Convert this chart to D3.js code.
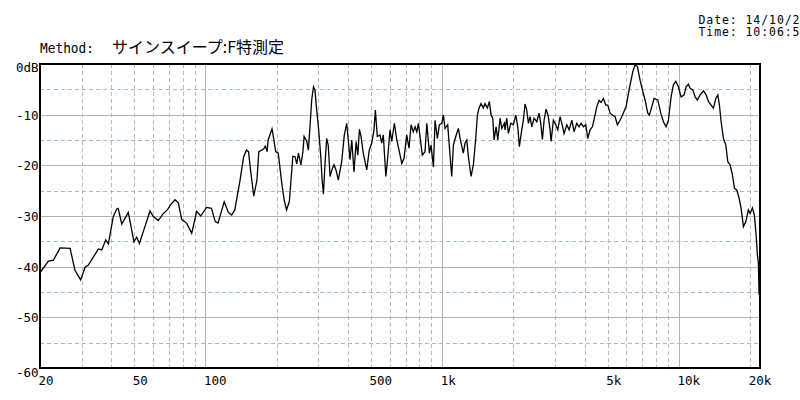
<!DOCTYPE html>
<html><head><meta charset="utf-8">
<script src="https://cdn.jsdelivr.net/npm/d3@7"></script>
<style>
html,body{margin:0;padding:0;background:#fff;}
svg{display:block;}
text{font-family:"DejaVu Sans Mono","Liberation Mono",monospace;fill:#000;}
</style></head><body>
<script>
// ---------- data ----------
const freqs = [20,21.7,22.8,24.3,26.8,28.1,29.7,31.0,32.0,35.3,36.5,37.9,38.9,40.8,42.2,42.8,44.3,47.2,49.9,51.2,52.6,55.5,58.3,60.2,63.2,66.4,69.0,71.5,74.4,76.8,79.4,83.3,87.5,91.8,95.5,101,106,110,113,120,125,129,133,
140,145,149,152,155,160,165,168,176,179,182,184,191,193,198,203,210,215,220,226,234,239,243,247,253,258,261,268,272,277,281,286,290,295,300,307,311,315,320,325,330,336,342,349,356,364,376,386,395,401,408,415,424,433,440,447,454,464,480,492,504,515,522,532,546,555,564,578,589,602,612,628,643,657,675,690,708,724,739,755,768,781,793,806,824,846,861,883,
897,918,933,954,973,996,1011,1028,1055,1079,1097,1115,1141,1170,1190,1228,1249,1270,1290,1324,1354,1386,1408,1431,1459,1492,1517,1552,1582,1609,1635,1656,1689,1717,1756,1785,1831,
1843,1874,1903,1948,1998,2046,2086,2118,2168,2202,2238,2276,2312,2350,2390,2444,2510,2566,2608,2650,2694,2746,2800,2856,2884,2948,3018,3078,3148,3200,3272,3360,3436,3528,3606,3702,3786,3860,3948,4040,4120,4214,4308,4394,4498,4600,4690,4796,4908,5006,5118,5254,5374,5494,5640,
5736,5980,6176,6384,6528,6676,6852,7008,7194,7386,7502,7680,7852,8142,8382,8598,8826,9026,9266,9476,9700,9948,10212,10514,10722,10964,11148,11444,11704,11968,12286,12688,13026,13320,13674,13984,14316,14596,14826,15074,15414,15778,16088,16452,16824,17156,17560,17956,18308,18726,19166,19654,19982,20432,20832,21180,21450,21660,21810];
const levels = [-41.2,-38.9,-38.7,-36.3,-36.4,-40.7,-42.6,-40.1,-39.7,-36.5,-36.7,-34.7,-35.5,-30.1,-28.6,-28.5,-31.6,-29.3,-35.1,-34.2,-35.4,-32.1,-29.0,-30.1,-30.9,-29.5,-28.8,-27.7,-26.8,-27.4,-30.7,-31.4,-33.4,-29.1,-30.0,-28.3,-28.5,-31.1,-31.4,-27.2,-29.3,-29.8,-28.8,
-22.9,-18.3,-17.0,-17.3,-20.9,-26.1,-22.9,-17.3,-16.8,-16.2,-17.3,-15.0,-12.8,-14.0,-17.3,-17.6,-23.5,-26.8,-28.8,-27.2,-18.2,-18.3,-19.7,-17.6,-19.9,-17.3,-14.3,-15.3,-17.0,-11.7,-7.1,-4.5,-5.1,-9.1,-12.4,-18.3,-22.9,-25.7,-19.6,-14.7,-16.0,-22.2,-20.9,-19.9,-20.9,-22.9,-19.3,-14.0,-11.7,-15.0,-18.9,-15.0,-21.3,-15.3,-18.0,-12.9,-14.3,-17.6,-20.9,-17.0,-15.6,-13.0,-9.1,-14.3,-14.0,-15.6,-14.0,-22.2,-18.3,-13.0,-15.3,-11.7,-15.0,-17.0,-19.6,-18.6,-14.0,-16.6,-12.0,-13.4,-12.4,-13.4,-11.7,-14.3,-18.0,-17.3,-11.7,-17.6,
-16.0,-20.3,-11.1,-14.7,-12.0,-11.7,-10.1,-12.7,-12.0,-18.0,-22.2,-16.0,-14.3,-12.7,-14.7,-17.6,-15.6,-15.0,-18.3,-22.2,-19.9,-14.7,-10.1,-8.7,-7.8,-8.7,-7.8,-8.7,-7.4,-10.1,-10.7,-15.0,-12.4,-15.0,-10.7,-12.7,-11.7,
-13.0,-10.7,-13.7,-11.7,-12.0,-10.1,-12.4,-16.3,-13.0,-11.1,-7.9,-9.1,-11.7,-10.4,-12.4,-10.7,-11.4,-9.7,-11.7,-14.9,-11.1,-8.9,-10.1,-13.0,-15.3,-11.1,-12.0,-13.0,-10.4,-11.7,-13.7,-12.0,-13.0,-11.1,-13.4,-11.7,-12.4,-11.7,-12.4,-12.0,-14.7,-13.0,-12.4,-10.7,-8.4,-7.2,-7.6,-6.8,-8.1,-8.1,-9.7,-10.1,-10.4,-12.0,-11.1,
-10.4,-8.4,-4.8,-1.5,-0.2,-0.5,-3.2,-5.1,-7.1,-9.7,-10.1,-8.4,-6.8,-7.1,-9.7,-11.4,-12.4,-11.1,-6.5,-4.1,-3.4,-4.5,-6.5,-6.1,-4.5,-4.0,-4.8,-5.1,-6.5,-7.1,-6.1,-5.3,-6.1,-7.4,-8.1,-8.7,-6.8,-6.1,-8.1,-11.4,-14.7,-16.0,-19.3,-19.9,-21.9,-24.5,-24.9,-26.5,-28.5,-32.1,-31.1,-28.8,-29.5,-28.4,-29.8,-33.7,-37.7,-39.3,-45.6];

const xTickValues = [20,50,100,500,1000,5000,10000,20000];
const xTickLabels = ["20","50","100","500","1k","5k","10k","20k"];
const yTickValues = [0,-10,-20,-30,-40,-50,-60];
const yTickLabels = ["0dB","-10","-20","-30","-40","-50","-60"];
const majorFreqs = [100,1000,10000];
const minorFreqs = [30,40,50,60,70,80,90,200,300,400,500,600,700,800,900,2000,3000,4000,5000,6000,7000,8000,9000,20000];
const majorLevels = [-10,-20,-30,-40,-50];
const minorLevels = [-5,-15,-25,-35,-45,-55];
const titleJa = "サインスイープ:F特測定";
const dateText = "Date: 14/10/2";
const timeText = "Time: 10:06:5";

// ---------- chart ----------
const W = 800, H = 400;
const L = 40, R = 760, T = 64, B = 368;
const svg = d3.select("body").append("svg").attr("width", W).attr("height", H);

const x = d3.scaleLog().domain([20, 22000]).range([L, R]);
const y = d3.scaleLinear().domain([-60, 0]).range([B, T]);

const g = svg.append("g").attr("shape-rendering", "crispEdges");
// vertical minor grid
g.selectAll(".vmin").data(minorFreqs).enter().append("line")
  .attr("x1", d => Math.round(x(d)) + 0.5).attr("x2", d => Math.round(x(d)) + 0.5)
  .attr("y1", T).attr("y2", B)
  .attr("stroke", "#c8b0c8").attr("stroke-width", 1).attr("stroke-dasharray", "4,3");
// horizontal minor grid
g.selectAll(".hmin").data(minorLevels).enter().append("line")
  .attr("x1", L).attr("x2", R)
  .attr("y1", d => Math.round(y(d)) + 0.5).attr("y2", d => Math.round(y(d)) + 0.5)
  .attr("stroke", "#a4c4a4").attr("stroke-width", 1).attr("stroke-dasharray", "4,3");
// major grid (gray)
g.selectAll(".vmaj").data(majorFreqs).enter().append("line")
  .attr("x1", d => Math.round(x(d)) + 0.5).attr("x2", d => Math.round(x(d)) + 0.5)
  .attr("y1", T).attr("y2", B)
  .attr("stroke", "#b4b0b4").attr("stroke-width", 1);
g.selectAll(".hmaj").data(majorLevels).enter().append("line")
  .attr("x1", L).attr("x2", R)
  .attr("y1", d => Math.round(y(d)) + 0.5).attr("y2", d => Math.round(y(d)) + 0.5)
  .attr("stroke", "#b4b0b4").attr("stroke-width", 1);

// curve
const pts = freqs.map((f, i) => [f, levels[i]]);
svg.append("path").datum(pts)
  .attr("fill", "none").attr("stroke", "#000").attr("stroke-width", 1.3)
  .attr("stroke-linejoin", "miter")
  .attr("d", d3.line().x(d => x(d[0])).y(d => y(d[1])));

// frame
svg.append("rect").attr("x", L).attr("y", T).attr("width", R - L).attr("height", B - T)
  .attr("fill", "none").attr("stroke", "#000").attr("stroke-width", 2.2)
  .attr("shape-rendering", "crispEdges");

// x tick labels
svg.selectAll(".xl").data(xTickValues).enter().append("text")
  .attr("x", d => x(d) - 1.5).attr("y", 385)
  .attr("font-size", "12.5px").attr("text-anchor", "start")
  .text((d, i) => xTickLabels[i]);

// y tick labels
svg.selectAll(".yl").data(yTickValues).enter().append("text")
  .attr("x", 38.5)
  .attr("y", (d, i) => y(d) + (i === 0 ? 8 : (i === yTickValues.length - 1 ? 9 : 5)))
  .attr("font-size", "12.5px").attr("text-anchor", "end")
  .text((d, i) => yTickLabels[i]);

// title
const t = svg.append("text").attr("x", L).attr("y", 53).attr("font-size", "14px");
t.append("tspan").attr("x", L).attr("textLength", 54).attr("lengthAdjust", "spacingAndGlyphs").text("Method:");
t.append("tspan").text("  ");
t.append("tspan").attr("x", 112).style("font-family", '"Noto Sans CJK JP"').attr("font-size", "16px").text(titleJa);

// date / time
svg.append("text").attr("x", 698.5).attr("y", 23.5).attr("font-size", "11.5px")
  .attr("textLength", 101).attr("lengthAdjust", "spacing").text(dateText);
svg.append("text").attr("x", 698.5).attr("y", 36).attr("font-size", "11.5px")
  .attr("textLength", 101).attr("lengthAdjust", "spacing").text(timeText);
</script>
</body></html>
